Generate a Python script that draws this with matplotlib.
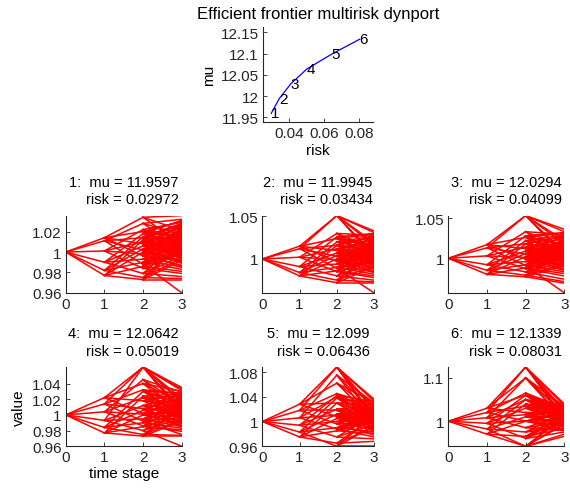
import matplotlib
matplotlib.use("Agg")
import matplotlib.pyplot as plt

plt.rcParams['font.family'] = ['Liberation Sans', 'DejaVu Sans']
plt.rcParams['font.size'] = 10

# efficient frontier
risk = [0.02972, 0.03434, 0.04099, 0.05019, 0.06436, 0.08031]
mu = [11.9597, 11.9945, 12.0294, 12.0642, 12.099, 12.1339]
point_labels = ['1', '2', '3', '4', '5', '6']
risk_ticks = [0.04, 0.06, 0.08]
risk_ticklabels = ['0.04', '0.06', '0.08']
mu_ticks = [11.95, 12.0, 12.05, 12.1, 12.15]
mu_ticklabels = ['11.95', '12', '12.05', '12.1', '12.15']

# scenario trees: stage 1 nodes, stage 2 children (4 per stage 1 node),
# stage 3 children (3 per stage 2 node, in order)
p1_t1 = [1.014, 1.011, 1.001, 0.990, 0.982, 0.977]
p1_t2 = [[1.034, 1.020, 1.008, 0.996], [1.028, 1.014, 1.002, 0.988],
         [1.022, 1.010, 0.998, 0.984], [1.018, 1.006, 0.993, 0.979],
         [1.015, 1.003, 0.990, 0.975], [1.012, 1.000, 0.986, 0.973]]
p1_t3 = [[1.0356, 1.021, 1.007], [1.030, 1.015, 1.001], [1.026, 1.010, 0.994],
         [1.020, 1.004, 0.987], [1.032, 1.017, 1.003], [1.027, 1.012, 0.997],
         [1.022, 1.006, 0.990], [1.016, 1.000, 0.960], [1.029, 1.013, 0.999],
         [1.024, 1.008, 0.993], [1.019, 1.003, 0.986], [1.014, 0.998, 0.979],
         [1.031, 1.016, 1.002], [1.025, 1.009, 0.995], [1.018, 1.002, 0.985],
         [1.012, 0.996, 0.976], [1.028, 1.013, 0.998], [1.023, 1.007, 0.991],
         [1.017, 1.001, 0.983], [1.010, 0.994, 0.974], [1.027, 1.011, 0.996],
         [1.021, 1.005, 0.989], [1.015, 0.999, 0.981], [1.009, 0.992, 0.973]]

p2_t1 = [1.015, 1.012, 1.002, 0.991, 0.984, 0.980]
p2_t2 = [[1.051, 1.024, 1.010, 0.997], [1.051, 1.016, 1.003, 0.989],
         [1.030, 1.012, 0.999, 0.985], [1.026, 1.007, 0.994, 0.980],
         [1.020, 1.004, 0.990, 0.975], [1.016, 1.000, 0.986, 0.972]]
p2_t3 = [[1.033, 1.019, 1.005], [1.029, 1.014, 1.000], [1.025, 1.009, 0.993],
         [1.019, 1.003, 0.986], [1.031, 1.016, 1.002], [1.026, 1.011, 0.996],
         [1.021, 1.005, 0.989], [1.015, 0.999, 0.960], [1.028, 1.012, 0.998],
         [1.023, 1.007, 0.992], [1.018, 1.002, 0.985], [1.013, 0.997, 0.978],
         [1.030, 1.015, 1.001], [1.024, 1.008, 0.994], [1.017, 1.001, 0.984],
         [1.011, 0.995, 0.975], [1.027, 1.012, 0.997], [1.022, 1.006, 0.990],
         [1.016, 1.000, 0.982], [1.009, 0.993, 0.973], [1.026, 1.010, 0.995],
         [1.020, 1.004, 0.988], [1.014, 0.998, 0.980], [1.008, 0.991, 0.972]]

p3_t1 = [1.017, 1.013, 1.003, 0.992, 0.985, 0.980]
p3_t2 = [[1.053, 1.026, 1.012, 0.999], [1.053, 1.018, 1.005, 0.991],
         [1.033, 1.014, 1.001, 0.987], [1.028, 1.009, 0.996, 0.983],
         [1.022, 1.006, 0.992, 0.979], [1.018, 1.002, 0.988, 0.977]]
p3_t3 = [[1.036, 1.022, 1.007], [1.031, 1.016, 1.001], [1.026, 1.010, 0.994],
         [1.020, 1.004, 0.987], [1.033, 1.018, 1.003], [1.028, 1.012, 0.997],
         [1.022, 1.006, 0.990], [1.016, 1.000, 0.957], [1.030, 1.014, 0.999],
         [1.025, 1.008, 0.993], [1.019, 1.003, 0.986], [1.013, 0.997, 0.978],
         [1.032, 1.016, 1.002], [1.026, 1.009, 0.995], [1.018, 1.002, 0.985],
         [1.011, 0.995, 0.974], [1.029, 1.013, 0.998], [1.023, 1.007, 0.991],
         [1.017, 1.001, 0.983], [1.010, 0.993, 0.971], [1.027, 1.011, 0.996],
         [1.021, 1.005, 0.989], [1.015, 0.999, 0.981], [1.008, 0.991, 0.969]]

p4_t1 = [1.022, 1.014, 1.004, 0.993, 0.984, 0.977]
p4_t2 = [[1.061, 1.040, 1.018, 1.002], [1.061, 1.032, 1.008, 0.992],
         [1.045, 1.022, 1.001, 0.986], [1.061, 1.012, 0.995, 0.980],
         [1.030, 1.006, 0.990, 0.975], [1.024, 1.000, 0.985, 0.973]]
p4_t3 = [[1.035, 1.021, 1.007], [1.030, 1.015, 1.001], [1.026, 1.010, 0.994],
         [1.020, 1.004, 0.987], [1.033, 1.017, 1.003], [1.027, 1.012, 0.997],
         [1.022, 1.006, 0.990], [1.016, 1.000, 0.975], [1.029, 1.013, 0.999],
         [1.024, 1.008, 0.993], [1.019, 1.003, 0.986], [1.014, 0.998, 0.979],
         [1.031, 1.016, 1.002], [1.025, 1.009, 0.995], [1.018, 1.002, 0.985],
         [1.012, 0.996, 0.960], [1.028, 1.013, 0.998], [1.023, 1.007, 0.991],
         [1.017, 1.001, 0.983], [1.010, 0.994, 0.974], [1.027, 1.011, 0.996],
         [1.021, 1.005, 0.989], [1.015, 0.999, 0.981], [1.009, 0.992, 0.973]]

p5_t1 = [1.028, 1.018, 1.006, 0.994, 0.983, 0.975]
p5_t2 = [[1.088, 1.062, 1.030, 1.008], [1.088, 1.045, 1.018, 0.996],
         [1.075, 1.040, 1.010, 0.988], [1.042, 1.020, 1.000, 0.975],
         [1.038, 1.012, 0.990, 0.960], [1.030, 1.005, 0.985, 0.965]]
p5_t3 = [[1.036, 1.022, 1.008], [1.031, 1.016, 1.001], [1.026, 1.010, 0.994],
         [1.020, 1.004, 0.987], [1.033, 1.018, 1.003], [1.028, 1.012, 0.997],
         [1.022, 1.006, 0.990], [1.016, 1.000, 0.978], [1.030, 1.014, 0.999],
         [1.025, 1.008, 0.993], [1.019, 1.003, 0.986], [1.013, 0.997, 0.975],
         [1.032, 1.016, 1.002], [1.026, 1.009, 0.995], [1.018, 1.002, 0.985],
         [1.011, 0.995, 0.972], [1.029, 1.013, 0.998], [1.023, 1.007, 0.991],
         [1.017, 1.001, 0.983], [1.010, 0.993, 0.960], [1.027, 1.011, 0.996],
         [1.021, 1.005, 0.989], [1.015, 0.999, 0.981], [1.008, 0.991, 0.968]]

p6_t1 = [1.030, 1.020, 1.008, 0.995, 0.982, 0.970]
p6_t2 = [[1.125, 1.100, 1.060, 1.020], [1.125, 1.065, 1.035, 1.000],
         [1.100, 1.050, 1.015, 0.985], [1.060, 1.030, 1.000, 0.960],
         [1.050, 1.010, 0.975, 0.942], [1.040, 1.000, 0.965, 0.942]]
p6_t3 = [[1.040, 1.025, 1.010], [1.034, 1.018, 1.003], [1.028, 1.012, 0.996],
         [1.022, 1.006, 0.989], [1.036, 1.020, 1.005], [1.030, 1.014, 0.999],
         [1.024, 1.008, 0.992], [1.018, 1.002, 0.980], [1.032, 1.016, 1.001],
         [1.027, 1.010, 0.995], [1.021, 1.005, 0.988], [1.015, 0.999, 0.978],
         [1.034, 1.018, 1.003], [1.028, 1.011, 0.997], [1.020, 1.004, 0.987],
         [1.013, 0.997, 0.975], [1.031, 1.015, 1.000], [1.025, 1.009, 0.993],
         [1.019, 1.003, 0.985], [1.012, 0.995, 0.965], [1.029, 1.013, 0.998],
         [1.023, 1.007, 0.991], [1.017, 1.001, 0.983], [1.010, 0.993, 0.970]]

trees = [(p1_t1, p1_t2, p1_t3), (p2_t1, p2_t2, p2_t3), (p3_t1, p3_t2, p3_t3),
         (p4_t1, p4_t2, p4_t3), (p5_t1, p5_t2, p5_t3), (p6_t1, p6_t2, p6_t3)]

value_ticks = [[0.96, 0.98, 1.0, 1.02], [1.0, 1.05], [1.0, 1.05],
               [0.96, 0.98, 1.0, 1.02, 1.04], [0.96, 1.0, 1.04, 1.08], [1.0, 1.1]]
value_ticklabels = [['0.96', '0.98', '1', '1.02'], ['1', '1.05'], ['1', '1.05'],
                    ['0.96', '0.98', '1', '1.02', '1.04'], ['0.96', '1', '1.04', '1.08'],
                    ['1', '1.1']]
stages = [0, 1, 2, 3]

axcol = '#262626'


def estilo(ax):
    for s in ['top', 'right']:
        ax.spines[s].set_visible(False)
    for s in ['left', 'bottom']:
        ax.spines[s].set_color(axcol)
        ax.spines[s].set_linewidth(0.8)
    ax.tick_params(direction='in', length=3, width=0.6, colors=axcol,
                   pad=3, labelsize=11)


def dibujar_arbol(ax, t1, t2, t3):
    flat2 = []
    for i, v1 in enumerate(t1):
        ax.plot([stages[0], stages[1]], [1.0, v1], color='red', lw=1.1)
        for v2 in t2[i]:
            ax.plot([stages[1], stages[2]], [v1, v2], color='red', lw=1.1)
            flat2.append(v2)
    for j, v2 in enumerate(flat2):
        for v3 in t3[j]:
            ax.plot([stages[2], stages[3]], [v2, v3], color='red', lw=1.1)


fig = plt.figure(figsize=(5.7, 4.89), dpi=100)

ax0 = fig.add_axes([0.4614, 0.7491, 0.193, 0.193])
ax0.plot(risk, mu, color='blue', lw=0.9)
for r, m, lab in zip(risk, mu, point_labels):
    ax0.text(r, m, lab, ha='left', va='center', color='black', fontsize=11)
ax0.set_xlim(0.025, 0.088)
ax0.set_ylim(11.94, 12.162)
ax0.set_xticks(risk_ticks)
ax0.set_xticklabels(risk_ticklabels)
ax0.set_yticks(mu_ticks)
ax0.set_yticklabels(mu_ticklabels)
ax0.set_xlabel('risk', labelpad=2, fontsize=11)
ax0.set_ylabel('mu', labelpad=3, fontsize=11)
ax0.set_title('Efficient frontier multirisk dynport', pad=7)
estilo(ax0)

lefts = [0.1153, 0.4602, 0.7865]
widths = [0.2035, 0.196, 0.2035]
bottoms = [0.399, 0.0853]
heights = [0.158, 0.162]

for k, (t1, t2, t3) in enumerate(trees):
    fila, col = divmod(k, 3)
    ax = fig.add_axes([lefts[col], bottoms[fila], widths[col], heights[fila]])
    dibujar_arbol(ax, t1, t2, t3)
    ax.margins(0)
    ax.set_xticks(stages)
    ax.set_yticks(value_ticks[k])
    ax.set_yticklabels(value_ticklabels[k])
    ax.set_title('%d:  mu = %g\nrisk = %.5f' % (k + 1, mu[k], risk[k]),
                 multialignment='right', pad=9, linespacing=1.3, fontsize=10.5)
    estilo(ax)
    if k == 3:
        ax.set_ylabel('value', fontsize=11)
        ax.set_xlabel('time stage', labelpad=1, fontsize=11)

fig.savefig('out.png', dpi=100)
